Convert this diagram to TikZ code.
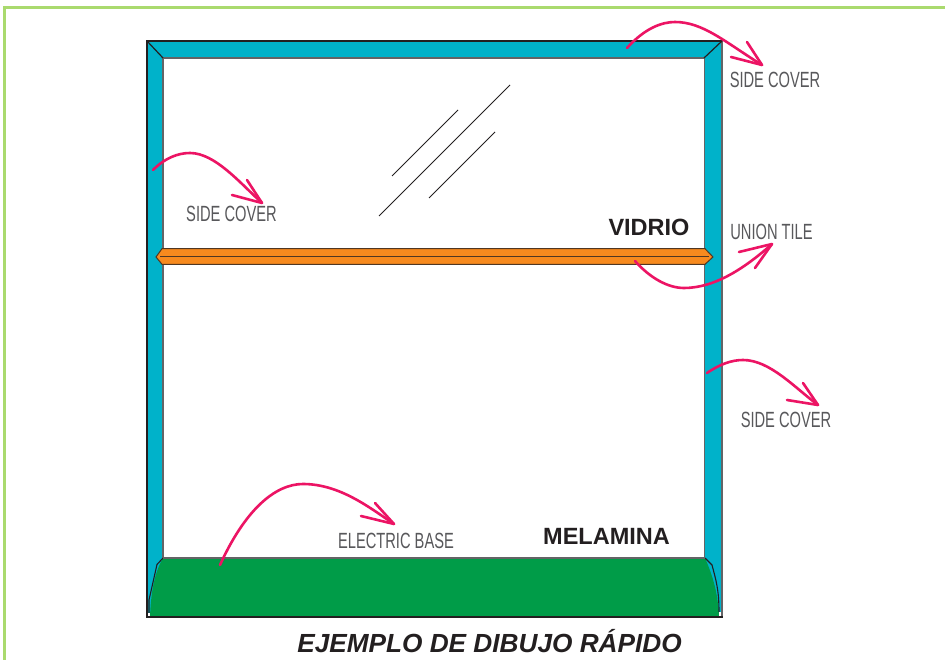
\documentclass[tikz,border=0pt]{standalone}
\usepackage{fontspec}
\setmainfont{Liberation Sans}
\definecolor{cyanbar}{RGB}{0,178,202}
\definecolor{orangebar}{RGB}{247,138,30}
\definecolor{greenbase}{RGB}{0,156,72}
\definecolor{pinkarrow}{RGB}{236,20,100}
\definecolor{framegreen}{RGB}{170,218,110}
\definecolor{inkdark}{RGB}{35,31,32}
\definecolor{inkgray}{RGB}{100,100,102}
\definecolor{labelgray}{RGB}{88,88,91}
\definecolor{barbrown}{RGB}{80,55,35}
\tikzset{
  callout/.style={draw=pinkarrow,line width=2.6pt,line cap=round,line join=round},
  thinlabel/.style={text=labelgray,font=\fontsize{22}{24}\selectfont,inner sep=0pt,xscale=0.667},
  boldlabel/.style={text=inkdark,font=\fontsize{23.5}{26}\selectfont\bfseries,inner sep=0pt},
  glassline/.style={draw=inkdark,line width=0.8pt},
  barline/.style={draw=inkgray,line width=1.8pt}
}
\begin{document}
\begin{tikzpicture}[x=1pt,y=-1pt]
\useasboundingbox (0,0) rectangle (945,660);
\fill[white] (0,0) rectangle (945,660);
% outer frame
\draw[framegreen,line width=3pt] (4.5,665) -- (4.5,8) -- (950,8);
% side covers
\fill[cyanbar] (147,41) rectangle (722,58);
\fill[cyanbar] (147,41) rectangle (163,617);
\fill[cyanbar] (704,41) rectangle (722,617);
\draw[barline] (163,617) -- (163,58) -- (704.5,58) -- (704.5,558);
\draw[draw=inkdark,line width=2pt] (146,41) -- (723,41);
\draw[draw=inkgray,line width=1.6pt] (722,41) -- (722,617);
\draw[draw=inkdark,line width=1.6pt] (147,41) -- (147,617);
\draw[draw=inkdark,line width=1.2pt] (147,41) -- (163,58);
\draw[draw=inkdark,line width=1.2pt] (722,41) -- (704,58);
% union tile
\filldraw[fill=orangebar,draw=barbrown,line width=1pt,line join=miter]
  (156,257) -- (162,248.7) -- (705,248.7) -- (713,257) -- (705,264.3) -- (162,264.3) -- cycle;
\draw[barbrown,line width=1pt] (160,256.7) -- (709,256.7);
% electric base
\fill[greenbase] (163,558) -- (705,558)
  .. controls (711,572) and (718,590) .. (719,617)
  -- (150,617) .. controls (151,590) and (155,572) .. (163,558) -- cycle;
\draw[inkdark,line width=1.1pt] (163,558) -- (157,564.5) -- (149,600) -- (149,617);
\draw[inkdark,line width=1.1pt] (705,558) -- (712,565) .. controls (716,580) and (719,590) .. (719,612);
\draw[barline] (163,558) -- (704.5,558);
\fill[white] (719,612) rectangle (721,616);
\fill[white] (148,613) rectangle (150,616);
\draw[draw=inkdark,line width=1.6pt] (146,617) -- (723,617);
% glass marks
\draw[glassline] (392,176) -- (458,110);
\draw[glassline] (379,216) -- (510,85);
\draw[glassline] (429,198) -- (495,132);
% labels
\node[thinlabel] (covertop) at (775,80) {SIDE COVER};
\node[thinlabel] (coverleft) at (231.5,214) {SIDE COVER};
\node[thinlabel] (union) at (771.5,232) {UNION TILE};
\node[thinlabel] (coverright) at (786,420) {SIDE COVER};
\node[thinlabel] (base) at (396,541) {ELECTRIC BASE};
\node[boldlabel] (vidrio) at (649,227) {VIDRIO};
\node[boldlabel] (melamina) at (606.5,536) {MELAMINA};
\node[font=\fontsize{26.2}{30}\selectfont\bfseries\itshape,text=inkdark,inner sep=0pt] (title) at (489.5,641) {EJEMPLO DE DIBUJO RÁPIDO};
% callouts
\coordinate (a1s) at (627,48); \coordinate (a1t) at (762,65);
\coordinate (a1u) at (747,42); \coordinate (a1v) at (731,57);
\draw[callout] (a1s) .. controls (645,28) and (662,22) .. (675,22) .. controls (703,22) and (725,42) .. (a1t);
\draw[callout] (a1u) -- (a1t) -- (a1v);
\coordinate (a2s) at (153,170); \coordinate (a2t) at (262,203);
\coordinate (a2u) at (247,180); \coordinate (a2v) at (232,195);
\draw[callout] (a2s) .. controls (165,158) and (178,153) .. (190,153) .. controls (215,153) and (240,183) .. (a2t);
\draw[callout] (a2u) -- (a2t) -- (a2v);
\coordinate (a3s) at (635,261); \coordinate (a3t) at (772,244);
\coordinate (a3u) at (739,252); \coordinate (a3v) at (755,268);
\draw[callout] (a3s) .. controls (650,278) and (668,288) .. (684,288) .. controls (715,288) and (745,268) .. (a3t);
\draw[callout] (a3u) -- (a3t) -- (a3v);
\coordinate (a4s) at (707,373); \coordinate (a4t) at (818,405);
\coordinate (a4u) at (803,383); \coordinate (a4v) at (787,400);
\draw[callout] (a4s) .. controls (720,364) and (732,360) .. (743,360) .. controls (770,360) and (795,388) .. (a4t);
\draw[callout] (a4u) -- (a4t) -- (a4v);
\coordinate (a5s) at (220,565); \coordinate (a5t) at (394,524);
\coordinate (a5u) at (375,503); \coordinate (a5v) at (361,516);
\draw[callout] (a5s) .. controls (245,510) and (275,484) .. (303,484) .. controls (340,484) and (370,508) .. (a5t);
\draw[callout] (a5u) -- (a5t) -- (a5v);
\end{tikzpicture}
\end{document}
